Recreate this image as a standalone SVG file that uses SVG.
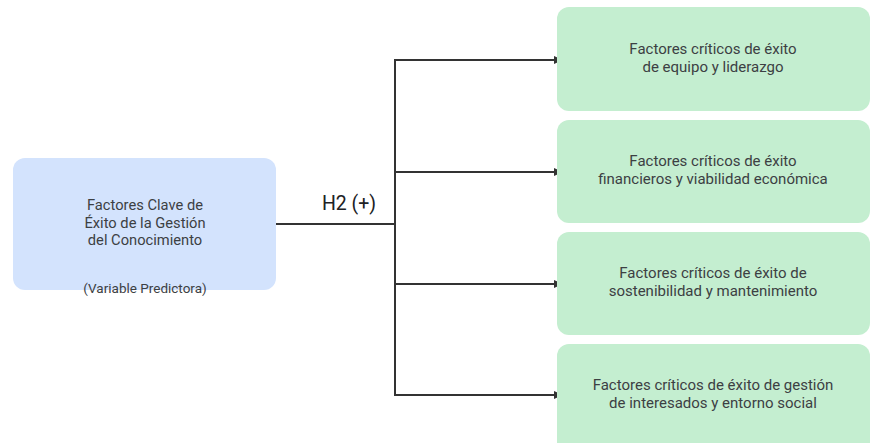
<svg xmlns="http://www.w3.org/2000/svg" width="871" height="443" viewBox="0 0 871 443">
  <defs>
    <marker id="arrow" markerWidth="10" markerHeight="10" refX="8" refY="5" orient="auto" markerUnits="userSpaceOnUse">
      <path d="M0,1 L9,5 L0,9 Z" fill="#333333"/>
    </marker>
  </defs>
  <style>
    .txt { font-family: Roboto, "Open Sans", "Liberation Sans", sans-serif; fill: #3c4043; text-anchor: middle; }
    .main { font-size: 14.7px; }
    .sub { font-size: 13.5px; }
    .out { font-size: 15px; }
    .lbl { font-size: 19.5px; fill: #202124; }
    .pred { fill: #d3e3fd; }
    .res { fill: #c4eed0; }
    .wire { fill: none; stroke: #333333; stroke-width: 2; }
  </style>
  <rect width="871" height="443" fill="#ffffff"/>

  <g id="connectors">
    <path class="wire" d="M276,224 H395"/>
    <path class="wire" d="M395,59 V395"/>
    <path class="wire" d="M394,60 H562" marker-end="url(#arrow)"/>
    <path class="wire" d="M394,172 H562" marker-end="url(#arrow)"/>
    <path class="wire" d="M394,284 H562" marker-end="url(#arrow)"/>
    <path class="wire" d="M394,395 H562" marker-end="url(#arrow)"/>
    <text class="txt lbl" x="349" y="210">H2 (+)</text>
  </g>

  <g id="predictor">
    <rect class="pred" x="13" y="158" width="263" height="132" rx="12"/>
    <text class="txt main" x="145" y="210">Factores Clave de</text>
    <text class="txt main" x="145" y="228">Éxito de la Gestión</text>
    <text class="txt main" x="145" y="245">del Conocimiento</text>
    <text class="txt sub" x="145" y="293">(Variable Predictora)</text>
  </g>

  <g id="equipo">
    <rect class="res" x="557" y="7" width="313" height="104" rx="12"/>
    <text class="txt out" x="713" y="54">Factores críticos de éxito</text>
    <text class="txt out" x="713" y="72">de equipo y liderazgo</text>
  </g>

  <g id="financieros">
    <rect class="res" x="557" y="120" width="313" height="103" rx="12"/>
    <text class="txt out" x="713" y="166">Factores críticos de éxito</text>
    <text class="txt out" x="713" y="184">financieros y viabilidad económica</text>
  </g>

  <g id="sostenibilidad">
    <rect class="res" x="557" y="232" width="313" height="103" rx="12"/>
    <text class="txt out" x="713" y="278">Factores críticos de éxito de</text>
    <text class="txt out" x="713" y="296">sostenibilidad y mantenimiento</text>
  </g>

  <g id="interesados">
    <rect class="res" x="557" y="344" width="313" height="112" rx="12"/>
    <text class="txt out" x="713" y="390">Factores críticos de éxito de gestión</text>
    <text class="txt out" x="713" y="408">de interesados y entorno social</text>
  </g>
</svg>
